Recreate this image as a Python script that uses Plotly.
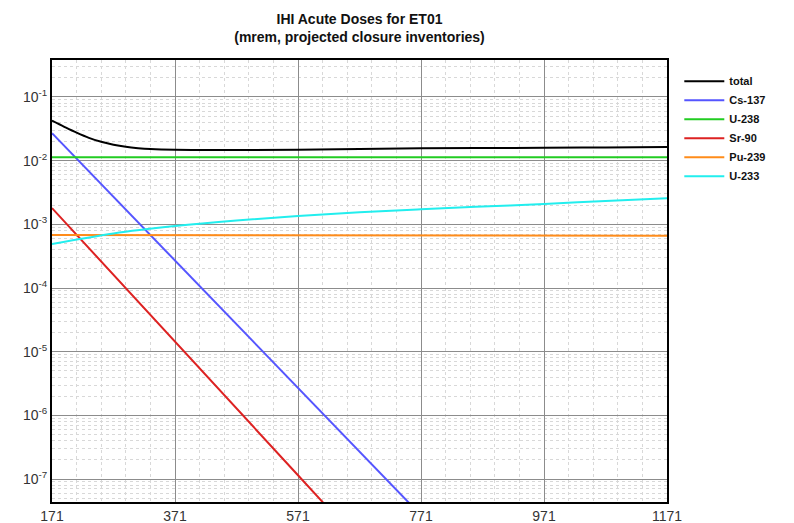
import plotly.graph_objects as go

# Years (x) and doses (mrem)
years_total = [171, 191, 211, 231, 251, 271, 291, 311, 331, 371, 471, 571, 671, 771, 871, 971, 1071, 1171]
total = [0.0425, 0.034, 0.0275, 0.0228, 0.0198, 0.0178, 0.0165, 0.0157, 0.0152, 0.0148, 0.0147, 0.0148, 0.0152, 0.0156, 0.0158, 0.0159, 0.0161, 0.0163]

years_cs = [171, 371, 571, 771]
cs137 = [0.027, 2.7e-4, 2.7e-6, 2.7e-8]

years_u238 = [171, 1171]
u238 = [0.0113, 0.0113]

years_sr = [171, 371, 571, 771]
sr90 = [1.8e-3, 1.45e-5, 1.15e-7, 9.0e-10]

years_pu = [171, 571, 1071, 1171]
pu239 = [6.8e-4, 6.75e-4, 6.7e-4, 6.6e-4]

years_u233 = [171, 271, 371, 471, 571, 671, 771, 871, 971, 1071, 1171]
u233 = [4.9e-4, 7.2e-4, 9.4e-4, 1.15e-3, 1.35e-3, 1.54e-3, 1.72e-3, 1.9e-3, 2.09e-3, 2.32e-3, 2.56e-3]

x_ticks = [171, 371, 571, 771, 971, 1171]
y_ticks = [1e-7, 1e-6, 1e-5, 1e-4, 1e-3, 1e-2, 1e-1]
y_ticktext = ["10<sup>-7</sup>", "10<sup>-6</sup>", "10<sup>-5</sup>", "10<sup>-4</sup>",
              "10<sup>-3</sup>", "10<sup>-2</sup>", "10<sup>-1</sup>"]

series = [
    ("total", years_total, total, "#000000"),
    ("Cs-137", years_cs, cs137, "#5555ff"),
    ("U-238", years_u238, u238, "#22cc22"),
    ("Sr-90", years_sr, sr90, "#dd2222"),
    ("Pu-239", years_pu, pu239, "#ff8c1a"),
    ("U-233", years_u233, u233, "#22eeee"),
]

fig = go.Figure()
for name, xs, ys, col in series:
    fig.add_trace(go.Scatter(x=xs, y=ys, mode="lines", name=name,
                             line=dict(color=col, width=2,
                                       shape="spline" if name in ("total", "U-233") else "linear")))

base_font = "Liberation Sans, Arial, sans-serif"

# The page body adds an 8px margin, so the figure is sized 8px smaller.
W, H = 786, 515
fig.update_layout(
    width=W, height=H,
    paper_bgcolor="white", plot_bgcolor="white",
    margin=dict(l=44, r=127, t=52, b=21, autoexpand=False),
    title=dict(text="<b>IHI Acute Doses for ET01</b><br><b>(mrem, projected closure inventories)</b>",
               x=(44 + 615 / 2) / W, xanchor="center",
               y=1 - 16 / H, yanchor="middle", yref="container",
               font=dict(family=base_font, size=14, color="#111")),
    showlegend=True,
    legend=dict(x=1.02, y=0.985, xanchor="left", yanchor="top",
                font=dict(family=base_font, size=11, color="#111", weight="bold"),
                bgcolor="rgba(0,0,0,0)", tracegroupgap=0, itemwidth=40),
    font=dict(family=base_font, size=14, color="#333"),
)

fig.update_xaxes(
    range=[171, 1171], tickvals=x_ticks, ticktext=[str(v) for v in x_ticks],
    showgrid=True, gridcolor="#8c8c8c", gridwidth=1,
    minor=dict(tick0=171, dtick=40, showgrid=True, gridcolor="#d8d8d8", gridwidth=1, griddash="dot"),
    showline=True, linecolor="black", linewidth=2, mirror=True,
    ticks="", zeroline=False, automargin=False, tickfont=dict(size=14, color="#333"),
)
fig.update_yaxes(
    type="log", range=[-7.36, -0.42],
    tickvals=y_ticks, ticktext=y_ticktext,
    showgrid=True, gridcolor="#8c8c8c", gridwidth=1,
    minor=dict(dtick="D1", showgrid=True, gridcolor="#d8d8d8", gridwidth=1, griddash="dot"),
    showline=True, linecolor="black", linewidth=2, mirror=True,
    ticks="", zeroline=False, automargin=False, tickfont=dict(size=14, color="#333"),
)

fig.write_html("out.html")
